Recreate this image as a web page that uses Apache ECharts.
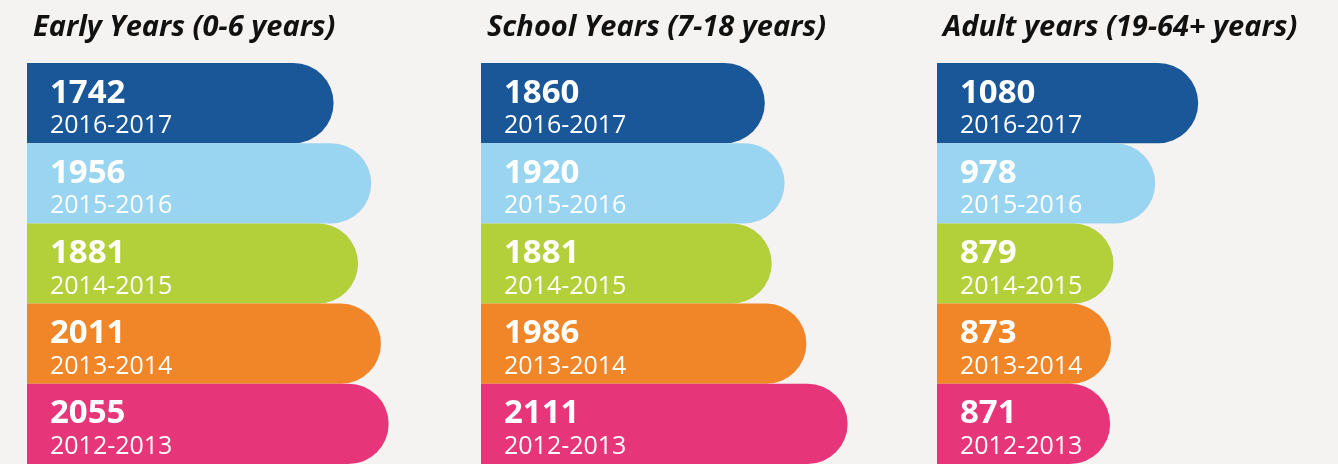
<!DOCTYPE html>
<html>
<head>
<meta charset="UTF-8">
<title>Years</title>
<script src="https://cdn.jsdelivr.net/npm/echarts@6/dist/echarts.min.js"></script>
<style>
  html, body { margin: 0; padding: 0; background: #f4f3f1; }
  #chart { width: 1338px; height: 464px; }
</style>
</head>
<body>
<div id="chart"></div>
<script>
// data
var years = ['2016-2017', '2015-2016', '2014-2015', '2013-2014', '2012-2013'];
var panelTitles = ['Early Years (0-6 years)', 'School Years (7-18 years)', 'Adult years (19-64+ years)'];
var earlyYears = [1742, 1956, 1881, 2011, 2055];
var schoolYears = [1860, 1920, 1881, 1986, 2111];
var adultYears = [1080, 978, 879, 873, 871];

var barColors = ['#1a5799', '#99d5f0', '#b3cf3a', '#f08628', '#e7357a'];

// each panel: left edge, axis range (infographic bars are not drawn to one scale)
var panels = [
    {data: earlyYears, left: 27, min: 0, max: 2250},
    {data: schoolYears, left: 481, min: 1000, max: 2200},
    {data: adultYears, left: 937, min: 460, max: 1400}
];

var grids = [], xAxes = [], yAxes = [], series = [], titles = [];
panels.forEach(function (p, i) {
    grids.push({left: p.left, top: 63, width: 396, height: 403, containLabel: false});
    xAxes.push({type: 'value', gridIndex: i, min: p.min, max: p.max, show: false});
    yAxes.push({type: 'category', gridIndex: i, data: years, inverse: true, show: false});
    titles.push({
        text: panelTitles[i], left: p.left + 1, top: 8,
        textStyle: {fontFamily: 'Open Sans', fontStyle: 'italic', fontWeight: 'bold', fontSize: 29, color: '#111'}
    });
    series.push({
        type: 'bar', xAxisIndex: i, yAxisIndex: i,
        barWidth: '100%',
        data: p.data.map(function (v, k) {
            return {value: v, itemStyle: {color: barColors[k]}};
        }),
        itemStyle: {borderRadius: [0, 42, 42, 0]},
        label: {
            show: true, position: 'insideLeft', distance: 23, offset: [0, 5],
            formatter: function (params) {
                return '{a|' + params.value + '}\n{b|' + params.name + '}';
            },
            rich: {
                a: {fontFamily: 'Open Sans', fontWeight: 'bold', fontSize: 33, lineHeight: 36, color: '#fff'},
                b: {fontFamily: 'Open Sans', fontSize: 25, lineHeight: 30, color: '#fff'}
            }
        },
        silent: true, animation: false
    });
});

var chart = echarts.init(document.getElementById('chart'));
chart.setOption({
    backgroundColor: '#f4f3f1',
    title: titles,
    grid: grids,
    xAxis: xAxes,
    yAxis: yAxes,
    series: series
});
</script>
</body>
</html>
